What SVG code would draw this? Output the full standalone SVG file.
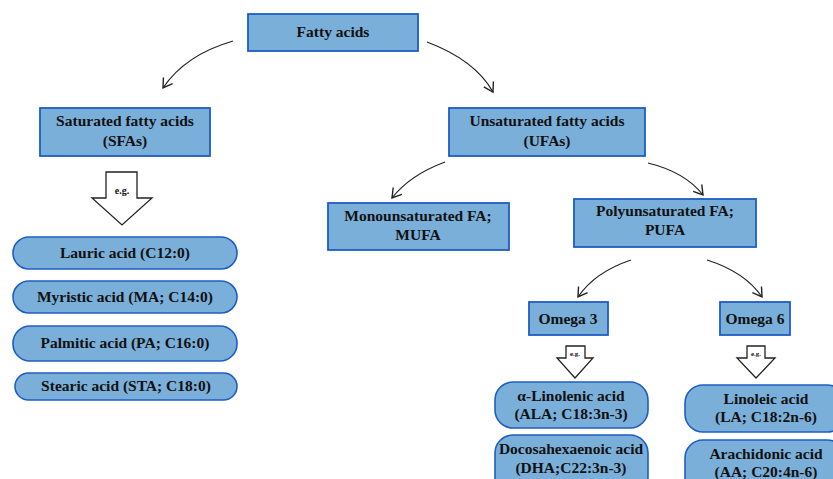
<svg xmlns="http://www.w3.org/2000/svg" width="833" height="479" viewBox="0 0 833 479">
<style>
.box{fill:#7aafda;stroke:#1f5cc4;stroke-width:1.8}
.pill{fill:#7aafda;stroke:#1f5cc4;stroke-width:1.6}
text{font-family:"Liberation Serif","Times New Roman",Times,serif;font-weight:bold;fill:#111;text-anchor:middle}
.t{font-size:15.5px}
.c{fill:none;stroke:#222;stroke-width:1.2}
.ea{fill:#fff;stroke:#222;stroke-width:1.3}
</style>
<defs>
<marker id="ah" markerUnits="userSpaceOnUse" markerWidth="14" markerHeight="14" refX="10" refY="6" orient="auto" viewBox="0 0 14 12">
<path d="M1,0.5 L10,6 L1,11.5" fill="none" stroke="#222" stroke-width="1.4"/>
</marker>
</defs>
<g id="connectors">
<path class="c" d="M233,41 Q185,55 163,88" marker-end="url(#ah)"/>
<path class="c" d="M427,42 Q475,60 493,92" marker-end="url(#ah)"/>
<path class="c" d="M445,162 Q410,175 392,198" marker-end="url(#ah)"/>
<path class="c" d="M648,163 Q685,172 703,195" marker-end="url(#ah)"/>
<path class="c" d="M631,260 Q595,272 578,297" marker-end="url(#ah)"/>
<path class="c" d="M707,260 Q745,272 762,297" marker-end="url(#ah)"/>
<g id="eg-sfa"><path class="ea" d="M106,172 L137,172 L137,198 L152,198 L122,225 L92,198 L106,198 Z"/><text x="122" y="194" font-size="10">e.g.</text></g>
<g id="eg-o3"><path class="ea" d="M566,346 L585,346 L585,358 L593,358 L575,378 L557,358 L566,358 Z"/><text x="575" y="356" font-size="7">e.g.</text></g>
<g id="eg-o6"><path class="ea" d="M747,346 L765,346 L765,358 L775,358 L756,378 L737,358 L747,358 Z"/><text x="756" y="356" font-size="7">e.g.</text></g>
</g>
<g id="fatty"><rect class="box" x="248" y="14" width="170" height="37"/><text class="t" x="333" y="37">Fatty acids</text></g>
<g id="sfa"><rect class="box" x="40" y="108" width="170" height="48"/><text class="t" x="125" y="126">Saturated fatty acids</text><text class="t" x="125" y="146">(SFAs)</text></g>
<g id="ufa"><rect class="box" x="449" y="108" width="196" height="48"/><text class="t" x="547" y="126">Unsaturated fatty acids</text><text class="t" x="547" y="146">(UFAs)</text></g>
<g id="mufa"><rect class="box" x="328" y="203" width="181" height="47"/><text class="t" x="418" y="221">Monounsaturated FA;</text><text class="t" x="418" y="240">MUFA</text></g>
<g id="pufa"><rect class="box" x="574" y="199" width="182" height="48"/><text class="t" x="665" y="216">Polyunsaturated FA;</text><text class="t" x="665" y="235">PUFA</text></g>
<g id="omega3"><rect class="box" x="529" y="302" width="79" height="33"/><text class="t" x="568" y="324">Omega 3</text></g>
<g id="omega6"><rect class="box" x="720" y="302" width="70" height="33"/><text class="t" x="755" y="324">Omega 6</text></g>
<g id="lauric"><rect class="pill" x="13" y="237" width="224" height="32" rx="16"/><text class="t" x="125" y="258">Lauric acid (C12:0)</text></g>
<g id="myristic"><rect class="pill" x="13" y="281" width="224" height="32" rx="16"/><text class="t" x="125" y="302">Myristic acid (MA; C14:0)</text></g>
<g id="palmitic"><rect class="pill" x="13" y="326" width="224" height="35" rx="17"/><text class="t" x="125" y="348">Palmitic acid (PA; C16:0)</text></g>
<g id="stearic"><rect class="pill" x="15" y="373" width="222" height="27" rx="13.5"/><text class="t" x="126" y="391">Stearic acid (STA; C18:0)</text></g>
<g id="ala"><rect class="pill" x="495" y="382" width="153" height="46" rx="18"/><text class="t" x="571" y="401">α-Linolenic acid</text><text class="t" x="571" y="419">(ALA; C18:3n-3)</text></g>
<g id="dha"><rect class="pill" x="495" y="435" width="153" height="60" rx="18"/><text class="t" x="571" y="454">Docosahexaenoic acid</text><text class="t" x="571" y="473">(DHA;C22:3n-3)</text></g>
<g id="la"><rect class="pill" x="685" y="385" width="160" height="47" rx="18"/><text class="t" x="766" y="404">Linoleic acid</text><text class="t" x="766" y="422">(LA; C18:2n-6)</text></g>
<g id="aa"><rect class="pill" x="685" y="440" width="160" height="60" rx="18"/><text class="t" x="766" y="459">Arachidonic acid</text><text class="t" x="766" y="477">(AA; C20:4n-6)</text></g>
</svg>
